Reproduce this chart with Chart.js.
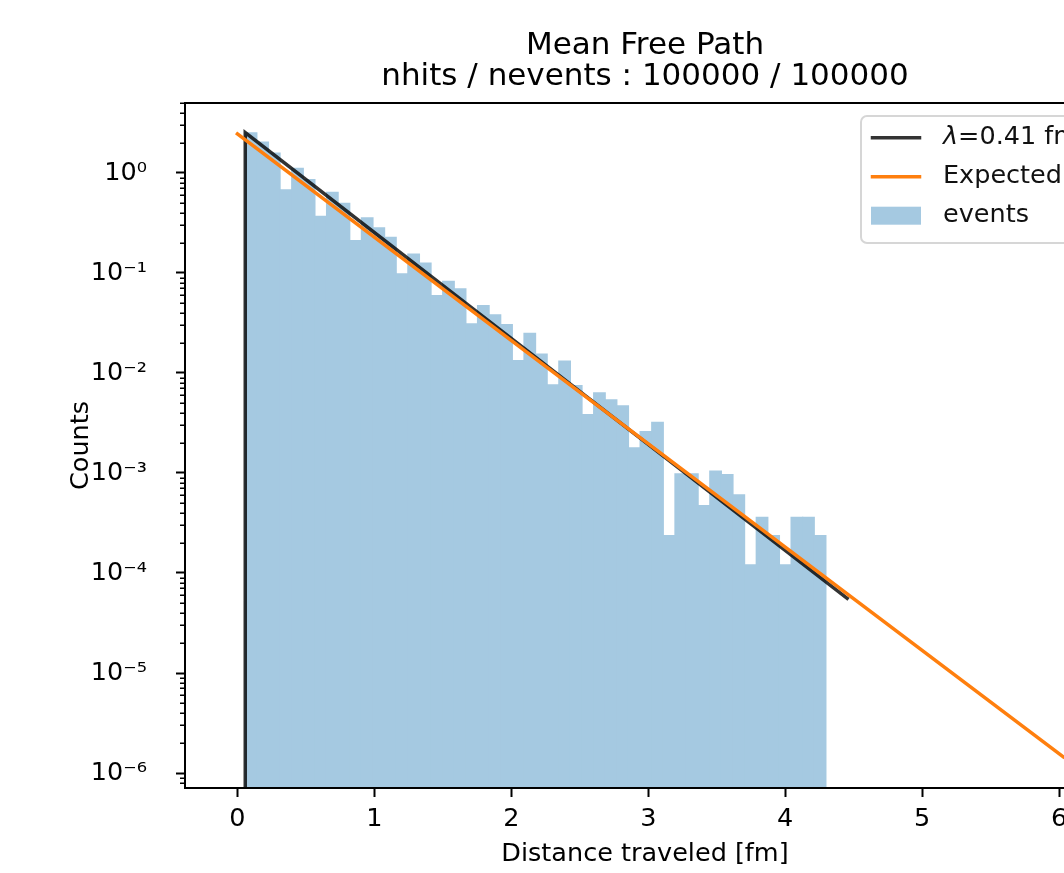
<!DOCTYPE html>
<html>
<head>
<meta charset="utf-8">
<title>Mean Free Path</title>
<script src="https://cdn.jsdelivr.net/npm/chart.js"></script>
<style>
  html, body { margin: 0; padding: 0; overflow: hidden; background: #fff; }
</style>
</head>
<body>
<canvas id="myChart" width="1292" height="873" style="width:1292px;height:873px;display:block;"></canvas>
<script>
// histogram: 50 equal bins, density values
const binStart = 0.057;
const binWidth = 0.0848;
const histValues = [
  2.55, 2.06, 1.60, 0.687, 1.13, 0.871, 0.374, 0.650, 0.505, 0.214,
  0.360, 0.286, 0.231, 0.0993, 0.157, 0.127, 0.0603, 0.0838, 0.0703, 0.0314,
  0.0479, 0.0386, 0.0309, 0.0135, 0.0253, 0.0157, 0.00771, 0.0133, 0.00759, 0.00389,
  0.00641, 0.00546, 0.00475, 0.00181, 0.00263, 0.00326, 0.000240, 0.000993, 0.000993, 0.000479,
  0.00106, 0.000977, 0.000612, 0.000122, 0.000366, 0.000240, 0.000122, 0.000366, 0.000366, 0.000240,
];

// fitted line (starts with a drop to the bottom of the axis)
const fitX = [0.057, 0.057, 4.452];
const fitY = [5e-7, 2.54, 5.58e-5];

// expected exponential
const expX = [0, 6.03];
const expY = [2.46, 1.45e-6];

const xTickValues = [0, 1, 2, 3, 4, 5, 6];
const xTickLabels = ["0", "1", "2", "3", "4", "5", "6"];
const yTickValues = [1, 1e-1, 1e-2, 1e-3, 1e-4, 1e-5, 1e-6];
const yTickLabels = ["10⁰", "10⁻¹", "10⁻²", "10⁻³", "10⁻⁴", "10⁻⁵", "10⁻⁶"];

const legendLabels = ["=0.41 fm", "Expected", "events"];

const X_MIN = -0.383, X_MAX = 6.335;
const Y_MIN = 7.08e-7, Y_MAX = 5.01;

const BAR_COLOR = "#a5c9e1";
const FIT_COLOR = "rgba(0,0,0,0.8)";
const EXP_COLOR = "#ff7f0e";
const FONT = '"DejaVu Sans"';

Chart.defaults.font.family = FONT;
Chart.defaults.color = "#000";

const histData = histValues.map((v, i) => ({ x: binStart + (i + 0.5) * binWidth, y: v }));
const fitData = fitX.map((x, i) => ({ x, y: fitY[i] }));
const expData = expX.map((x, i) => ({ x, y: expY[i] }));

// minor ticks on the log axis, spines and the framed legend
const axesDecor = {
  id: "axesDecor",
  afterDraw(chart) {
    const { ctx, chartArea: a } = chart;
    const y = chart.scales.y;
    ctx.save();

    // minor ticks 2..9 x 10^n
    ctx.strokeStyle = "#000";
    ctx.lineWidth = 1.5;
    for (let e = -7; e <= 0; e++) {
      for (let m = 2; m <= 9; m++) {
        const v = m * Math.pow(10, e);
        if (v < Y_MIN || v > Y_MAX) continue;
        const py = Math.round(y.getPixelForValue(v)) + 0.25;
        ctx.beginPath();
        ctx.moveTo(a.left - 5, py);
        ctx.lineTo(a.left, py);
        ctx.stroke();
      }
    }

    // spines
    ctx.lineWidth = 2;
    ctx.strokeRect(a.left, a.top, a.right - a.left, a.bottom - a.top);

    // legend
    const right = a.right - 13;
    const left = right - 231;
    const top = a.top + 13;
    const h = 127;
    const r = 6;
    ctx.beginPath();
    ctx.roundRect(left, top, right - left, h, r);
    ctx.fillStyle = "rgba(255,255,255,0.8)";
    ctx.fill();
    ctx.strokeStyle = "#d6d6d6";
    ctx.lineWidth = 2;
    ctx.stroke();

    const rows = [top + 21.7, top + 60.7, top + 99.7];
    const hx0 = left + 10, hx1 = left + 60, tx = left + 82;

    ctx.lineWidth = 3.5;
    ctx.lineCap = "square";
    ctx.strokeStyle = FIT_COLOR;
    ctx.beginPath(); ctx.moveTo(hx0 + 1.5, rows[0]); ctx.lineTo(hx1 - 1.5, rows[0]); ctx.stroke();
    ctx.strokeStyle = EXP_COLOR;
    ctx.beginPath(); ctx.moveTo(hx0 + 1.5, rows[1]); ctx.lineTo(hx1 - 1.5, rows[1]); ctx.stroke();
    ctx.fillStyle = BAR_COLOR;
    ctx.fillRect(hx0, rows[2] - 9, hx1 - hx0, 18);

    ctx.fillStyle = "#111";
    ctx.textBaseline = "middle";
    ctx.textAlign = "left";
    ctx.font = "italic 25.5px " + FONT;
    ctx.fillText("λ", tx, rows[0]);
    const lw = ctx.measureText("λ").width;
    ctx.font = "25.5px " + FONT;
    ctx.fillText(legendLabels[0], tx + lw, rows[0]);
    ctx.fillText(legendLabels[1], tx, rows[1]);
    ctx.fillText(legendLabels[2], tx, rows[2]);

    ctx.restore();
  },
};

new Chart(document.getElementById("myChart"), {
  type: "bar",
  data: {
    datasets: [
      {
        type: "line",
        label: "fit",
        data: fitData,
        borderColor: FIT_COLOR,
        borderWidth: 3.5,
        borderCapStyle: "square",
        borderJoinStyle: "miter",
        pointRadius: 0,
        tension: 0,
        clip: 0,
        order: 2,
      },
      {
        type: "line",
        label: "Expected",
        data: expData,
        borderColor: EXP_COLOR,
        borderWidth: 3.5,
        borderCapStyle: "square",
        pointRadius: 0,
        tension: 0,
        clip: 0,
        order: 1,
      },
      {
        type: "bar",
        label: "events",
        data: histData,
        backgroundColor: BAR_COLOR,
        borderWidth: 0,
        barPercentage: 1.1,
        categoryPercentage: 1,
        grouped: false,
        order: 3,
      },
    ],
  },
  options: {
    responsive: false,
    devicePixelRatio: 1,
    animation: false,
    events: [],
    layout: { padding: { left: 0, right: 187, top: 0, bottom: 0 } },
    scales: {
      x: {
        type: "linear",
        min: X_MIN,
        max: X_MAX,
        bounds: "data",
        offset: false,
        afterBuildTicks: (scale) => {
          scale.ticks = xTickValues.map((v) => ({ value: v }));
        },
        afterFit: (scale) => {
          scale.height = 85;
        },
        ticks: {
          padding: 7,
          color: "#000",
          font: { size: 25.5 },
          maxRotation: 0,
          autoSkip: false,
          callback: (value) => xTickLabels[xTickValues.indexOf(value)],
        },
        grid: {
          offset: false,
          drawOnChartArea: false,
          drawTicks: true,
          tickLength: 9,
          tickWidth: 2,
          tickColor: "#000",
        },
        border: { display: true, color: "#000", width: 2 },
        title: {
          display: true,
          text: "Distance traveled [fm]",
          color: "#000",
          font: { size: 25.5 },
          padding: { top: 0, bottom: 3 },
        },
      },
      y: {
        type: "logarithmic",
        min: Y_MIN,
        max: Y_MAX,
        bounds: "data",
        afterBuildTicks: (scale) => {
          scale.ticks = yTickValues.map((v) => ({ value: v }));
        },
        afterFit: (scale) => {
          scale.width = 185;
        },
        ticks: {
          padding: 29,
          color: "#000",
          font: { size: 25.5 },
          autoSkip: false,
          callback: (value) => yTickLabels[yTickValues.indexOf(value)],
        },
        grid: {
          drawOnChartArea: false,
          drawTicks: true,
          tickLength: 9,
          tickWidth: 2,
          tickColor: "#000",
        },
        border: { display: true, color: "#000", width: 2 },
        title: {
          display: true,
          text: "Counts",
          color: "#000",
          font: { size: 25.5 },
          padding: { top: 66, bottom: 0 },
        },
      },
    },
    plugins: {
      legend: { display: false },
      tooltip: { enabled: false },
      title: {
        display: true,
        fullSize: false,
        text: ["Mean Free Path", "nhits / nevents : 100000 / 100000"],
        color: "#000",
        font: { size: 31, weight: "normal", lineHeight: 1.0 },
        padding: { top: 30, bottom: 11 },
      },
    },
  },
  plugins: [axesDecor],
});
</script>
</body>
</html>
